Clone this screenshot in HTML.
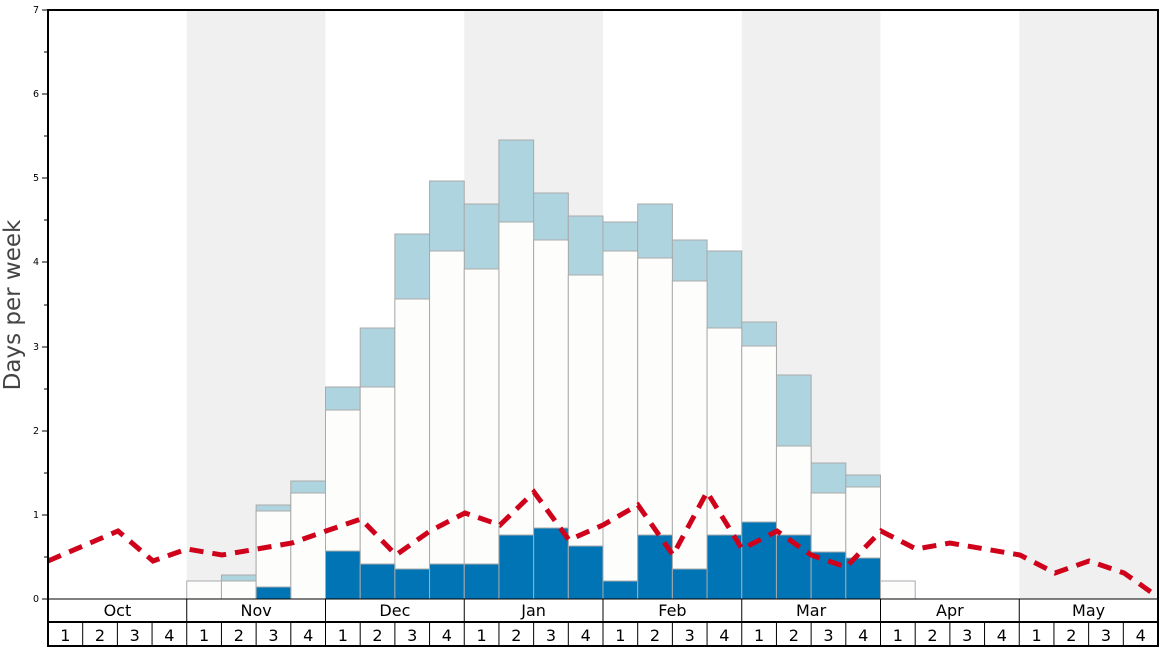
<!DOCTYPE html>
<html><head><meta charset="utf-8"><style>html,body{margin:0;padding:0;background:#fff}svg{display:block}text{font-family:"DejaVu Sans","Liberation Sans",sans-serif}</style></head><body>
<svg width="1168" height="648" viewBox="0 0 1168 648" xmlns="http://www.w3.org/2000/svg">
<rect x="186.75" y="10" width="138.75" height="589" fill="#f0f0f0"/>
<rect x="464.25" y="10" width="138.75" height="589" fill="#f0f0f0"/>
<rect x="741.75" y="10" width="138.75" height="589" fill="#f0f0f0"/>
<rect x="1019.25" y="10" width="138.75" height="589" fill="#f0f0f0"/>
<g stroke="#aaa" stroke-width="1">
<g fill="#aed4e0">
<rect x="221.44" y="575" width="34.69" height="24"/>
<rect x="256.13" y="505" width="34.69" height="94"/>
<rect x="290.81" y="481" width="34.69" height="118"/>
<rect x="325.5" y="387" width="34.69" height="212"/>
<rect x="360.19" y="328" width="34.69" height="271"/>
<rect x="394.88" y="234" width="34.69" height="365"/>
<rect x="429.56" y="181" width="34.69" height="418"/>
<rect x="464.25" y="204" width="34.69" height="395"/>
<rect x="498.94" y="140" width="34.69" height="459"/>
<rect x="533.63" y="193" width="34.69" height="406"/>
<rect x="568.31" y="216" width="34.69" height="383"/>
<rect x="603" y="222" width="34.69" height="377"/>
<rect x="637.69" y="204" width="34.69" height="395"/>
<rect x="672.38" y="240" width="34.69" height="359"/>
<rect x="707.06" y="251" width="34.69" height="348"/>
<rect x="741.75" y="322" width="34.69" height="277"/>
<rect x="776.44" y="375" width="34.69" height="224"/>
<rect x="811.13" y="463" width="34.69" height="136"/>
<rect x="845.81" y="475" width="34.69" height="124"/>
</g>
<g fill="#fdfdfb">
<rect x="186.75" y="581" width="34.69" height="18"/>
<rect x="221.44" y="581" width="34.69" height="18"/>
<rect x="256.13" y="511" width="34.69" height="88"/>
<rect x="290.81" y="493" width="34.69" height="106"/>
<rect x="325.5" y="410" width="34.69" height="189"/>
<rect x="360.19" y="387" width="34.69" height="212"/>
<rect x="394.88" y="299" width="34.69" height="300"/>
<rect x="429.56" y="251" width="34.69" height="348"/>
<rect x="464.25" y="269" width="34.69" height="330"/>
<rect x="498.94" y="222" width="34.69" height="377"/>
<rect x="533.63" y="240" width="34.69" height="359"/>
<rect x="568.31" y="275" width="34.69" height="324"/>
<rect x="603" y="251" width="34.69" height="348"/>
<rect x="637.69" y="258" width="34.69" height="341"/>
<rect x="672.38" y="281" width="34.69" height="318"/>
<rect x="707.06" y="328" width="34.69" height="271"/>
<rect x="741.75" y="346" width="34.69" height="253"/>
<rect x="776.44" y="446" width="34.69" height="153"/>
<rect x="811.13" y="493" width="34.69" height="106"/>
<rect x="845.81" y="487" width="34.69" height="112"/>
<rect x="880.5" y="581" width="34.69" height="18"/>
</g>
<g fill="#0074b4">
<rect x="256.13" y="587" width="34.69" height="12"/>
<rect x="325.5" y="551" width="34.69" height="48"/>
<rect x="360.19" y="564" width="34.69" height="35"/>
<rect x="394.88" y="569" width="34.69" height="30"/>
<rect x="429.56" y="564" width="34.69" height="35"/>
<rect x="464.25" y="564" width="34.69" height="35"/>
<rect x="498.94" y="535" width="34.69" height="64"/>
<rect x="533.63" y="528" width="34.69" height="71"/>
<rect x="568.31" y="546" width="34.69" height="53"/>
<rect x="603" y="581" width="34.69" height="18"/>
<rect x="637.69" y="535" width="34.69" height="64"/>
<rect x="672.38" y="569" width="34.69" height="30"/>
<rect x="707.06" y="535" width="34.69" height="64"/>
<rect x="741.75" y="522" width="34.69" height="77"/>
<rect x="776.44" y="535" width="34.69" height="64"/>
<rect x="811.13" y="552" width="34.69" height="47"/>
<rect x="845.81" y="558" width="34.69" height="41"/>
</g>
</g>
<polyline fill="none" stroke="#d0021b" stroke-width="5" stroke-dasharray="14,9" points="48,561 118,531 153,561 187,549 222,555 257,549 292,543 326,531 361,519 396,555 430,531 465,513 500,525 534,492 569,540 603,525 638,505 673,555 707,492 742,549 777,531 811,555 846,567 881,531 916,549 950,543 985,549 1020,555 1055,573 1089,561 1124,573 1158,597"/>
<rect x="48" y="10" width="1110" height="636" fill="none" stroke="#000" stroke-width="2"/>
<line x1="48" y1="599" x2="1158" y2="599" stroke="#000" stroke-width="1"/>
<line x1="48" y1="622" x2="1158" y2="622" stroke="#000" stroke-width="2"/>
<g stroke="#000" stroke-width="1">
<line x1="186.75" y1="599" x2="186.75" y2="646"/><line x1="325.5" y1="599" x2="325.5" y2="646"/><line x1="464.25" y1="599" x2="464.25" y2="646"/><line x1="603" y1="599" x2="603" y2="646"/><line x1="741.75" y1="599" x2="741.75" y2="646"/><line x1="880.5" y1="599" x2="880.5" y2="646"/><line x1="1019.25" y1="599" x2="1019.25" y2="646"/>
<path d="M82.69 622V646M117.38 622V646M152.06 622V646M221.44 622V646M256.13 622V646M290.81 622V646M360.19 622V646M394.88 622V646M429.56 622V646M498.94 622V646M533.63 622V646M568.31 622V646M637.69 622V646M672.38 622V646M707.06 622V646M776.44 622V646M811.13 622V646M845.81 622V646M915.19 622V646M949.88 622V646M984.56 622V646M1053.94 622V646M1088.63 622V646M1123.31 622V646"/>
<path d="M42 599H48M42 515H48M42 431H48M42 347H48M42 262H48M42 178H48M42 94H48M42 10H48M44 557H48M44 473H48M44 389H48M44 305H48M44 220H48M44 136H48M44 52H48"/>
</g>
<g font-size="9.5" text-anchor="end" fill="#000">
<text x="39" y="602">0</text><text x="39" y="518">1</text><text x="39" y="434">2</text><text x="39" y="350">3</text><text x="39" y="265">4</text><text x="39" y="181">5</text><text x="39" y="97">6</text><text x="39" y="13">7</text>
</g>
<text transform="translate(20,305) rotate(-90)" font-size="23" text-anchor="middle" fill="#444">Days per week</text>
<g font-size="16" text-anchor="middle" fill="#000">
<text x="117.4" y="616">Oct</text><text x="256.1" y="616">Nov</text><text x="394.9" y="616">Dec</text><text x="533.6" y="616">Jan</text><text x="672.4" y="616">Feb</text><text x="811.1" y="616">Mar</text><text x="949.9" y="616">Apr</text><text x="1088.6" y="616">May</text>
</g>
<g font-size="16" text-anchor="middle" fill="#000">
<text x="65.3" y="641">1</text><text x="100" y="641">2</text><text x="134.7" y="641">3</text><text x="169.4" y="641">4</text>
<text x="204.1" y="641">1</text><text x="238.8" y="641">2</text><text x="273.5" y="641">3</text><text x="308.2" y="641">4</text>
<text x="342.8" y="641">1</text><text x="377.5" y="641">2</text><text x="412.2" y="641">3</text><text x="446.9" y="641">4</text>
<text x="481.6" y="641">1</text><text x="516.3" y="641">2</text><text x="551" y="641">3</text><text x="585.7" y="641">4</text>
<text x="620.3" y="641">1</text><text x="655" y="641">2</text><text x="689.7" y="641">3</text><text x="724.4" y="641">4</text>
<text x="759.1" y="641">1</text><text x="793.8" y="641">2</text><text x="828.5" y="641">3</text><text x="863.2" y="641">4</text>
<text x="897.8" y="641">1</text><text x="932.5" y="641">2</text><text x="967.2" y="641">3</text><text x="1001.9" y="641">4</text>
<text x="1036.6" y="641">1</text><text x="1071.3" y="641">2</text><text x="1106" y="641">3</text><text x="1140.7" y="641">4</text>
</g>
</svg>
</body></html>
